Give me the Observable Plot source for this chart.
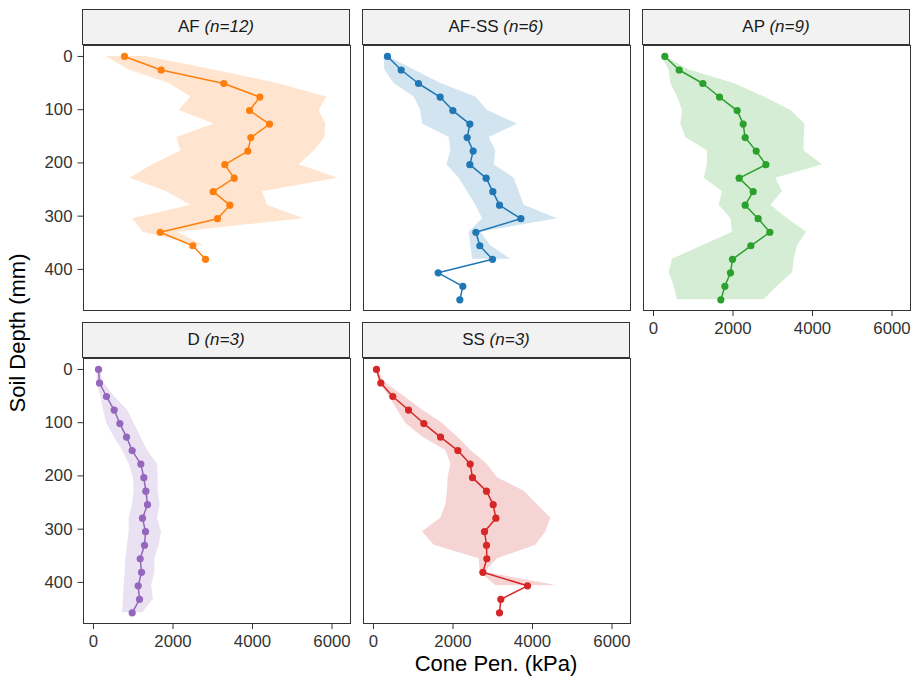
<!DOCTYPE html>
<html><head><meta charset="utf-8">
<script src="https://cdn.jsdelivr.net/npm/d3@7"></script>
<script src="https://cdn.jsdelivr.net/npm/@observablehq/plot@0.6"></script>
<style>
body{margin:0;background:#fff;}
#chart{position:relative;width:913px;height:680px;font-family:"Liberation Sans",Arial,sans-serif;overflow:hidden;background:#fff;}
.strip{position:absolute;box-sizing:border-box;background:#f2f2f2;border:1px solid #333;color:#1a1a1a;font-size:17px;display:flex;align-items:center;justify-content:center;white-space:pre;}
.panel{position:absolute;}
.title{position:absolute;font-size:22px;color:#000;white-space:nowrap;}
</style></head><body><div id="chart"></div>
<script>
// Depths (mm) of each reading
const depthMM = [0, 25.4, 50.8, 76.2, 101.6, 127, 152.4, 177.8, 203.2, 228.6, 254, 279.4, 304.8, 330.2, 355.6, 381, 406.4, 431.8, 457.2];

const groups = ["AF", "AF-SS", "AP", "D", "SS"];
const groupN = [12, 6, 9, 3, 3];
const groupColors = ["#ff7f0e", "#1f77b4", "#2ca02c", "#9467bd", "#d62728"];

// mean cone penetration (kPa) and ribbon bounds
const meanAF = [780, 1702, 3279, 4185, 3925, 4428, 3958, 3883, 3304, 3539, 3011, 3430, 3120, 1677, 2499, 2818];
const loAF   = [310, 897, 1904, 2449, 2155, 3036, 2097, 2197, 1484, 922, 1845, 2449, 981, 1250, 2700, null];
const hiAF   = [1317, 3036, 4629, 5870, 5677, 5845, 5820, 5552, 5174, 6155, 4252, 4377, 5283, 2113, 2780, null];

const meanAFSS = [352, 696, 1132, 1677, 1996, 2424, 2356, 2507, 2424, 2834, 3002, 3170, 3707, 2575, 2675, 2994, 1627, 2247, 2172];
const loAFSS   = [268, 285, 520, 1023, 1191, 1233, 1904, 1946, 1845, 2155, 2365, 2574, 2742, 2407, 2449, 2491, null, null, null];
const hiAFSS   = [369, 1023, 1694, 2574, 2868, 3623, 2910, 3078, 3036, 3539, 3665, 3790, 4629, 2700, 2952, 3455, null, null, null];

const meanAP = [285, 646, 1241, 1660, 2105, 2256, 2306, 2583, 2826, 2155, 2507, 2306, 2633, 2927, 2449, 1987, 1937, 1795, 1694];
const loAP   = [201, 394, 436, 604, 730, 688, 813, 1359, 1359, 1275, 1736, 1652, 1946, 1987, 1233, 478, 394, 520, 604];
const hiAP   = [310, 897, 2029, 2784, 3455, 3807, 3790, 3790, 4252, 3078, 3245, 2952, 3371, 3849, 3623, 3539, 3497, 3120, 2784];

const meanD = [126, 151, 327, 520, 662, 830, 973, 1191, 1266, 1317, 1359, 1233, 1308, 1283, 1174, 1208, 1124, 1157, 973];
const loD   = [101, 84, 184, 252, 335, 520, 730, 897, 1006, 1023, 981, 897, 897, 855, 813, 797, 771, 755, 730];
const hiD   = [151, 268, 520, 855, 1023, 1191, 1359, 1610, 1627, 1627, 1677, 1610, 1711, 1652, 1543, 1543, 1459, 1509, 1233];

const meanSS = [75, 184, 486, 881, 1266, 1686, 2122, 2432, 2491, 2843, 3011, 3078, 2793, 2843, 2851, 2751, 3874, 3203, 3170];
const loSS   = [59, 143, 394, 604, 813, 1233, 1820, 1946, 1878, 1862, 1820, 1694, 1233, 1526, 2658, 2684, 3078, null, null];
const hiSS   = [84, 310, 772, 1233, 1736, 2113, 2449, 2851, 3120, 3790, 4126, 4461, 4336, 4084, 3120, 2801, 4629, null, null];

const xTicks = [0, 2000, 4000, 6000];
const yTicks = [0, 100, 200, 300, 400];

const series = [
  [meanAF, loAF, hiAF],
  [meanAFSS, loAFSS, hiAFSS],
  [meanAP, loAP, hiAP],
  [meanD, loD, hiD],
  [meanSS, loSS, hiSS]
];

// layout
const W = 267, H = 265, ML = 60, MR = 10, MT = 5, MB = 40;
const lefts = [82.5, 362.5, 642.5];
const tops = [44.5, 357.5];
const layout = [
  {col: 0, row: 0, showX: false, showY: true},
  {col: 1, row: 0, showX: false, showY: false},
  {col: 2, row: 0, showX: true, showY: false},
  {col: 0, row: 1, showX: true, showY: true},
  {col: 1, row: 1, showX: true, showY: false}
];

const chart = document.getElementById("chart");

groups.forEach((g, i) => {
  const [m, lo, hi] = series[i];
  const rows = m.map((v, j) => ({depth: depthMM[j], mean: v, lo: lo[j], hi: hi[j]}));
  const color = groupColors[i];
  const L = layout[i];
  const p = Plot.plot({
    width: ML + W + MR,
    height: MT + H + MB,
    marginLeft: ML, marginRight: MR, marginTop: MT, marginBottom: MB,
    style: {fontFamily: '"Liberation Sans", Arial, sans-serif', fontSize: "16.8px", color: "#333", background: "transparent", overflow: "visible"},
    x: {domain: [-251.6, 6465], axis: L.showX ? "bottom" : null, ticks: xTicks, tickFormat: d => String(d), tickSize: 6, tickPadding: 6, label: null},
    y: {domain: [-20.6, 477.2], reverse: true, axis: L.showY ? "left" : null, ticks: yTicks, tickFormat: d => String(d), tickSize: 5.5, tickPadding: 5.5, label: null},
    marks: [
      Plot.areaX(rows, {y: "depth", x1: "lo", x2: "hi", fill: color, fillOpacity: 0.2}),
      Plot.line(rows, {x: "mean", y: "depth", stroke: color, strokeWidth: 1.5}),
      Plot.dot(rows, {x: "mean", y: "depth", fill: color, r: 3.6}),
      Plot.frame({stroke: "#333", strokeWidth: 1})
    ]
  });
  p.classList.add("panel");
  p.style.left = (lefts[L.col] - ML) + "px";
  p.style.top = (tops[L.row] - MT) + "px";
  chart.appendChild(p);

  const s = document.createElement("div");
  s.className = "strip";
  s.style.left = (lefts[L.col] - 0.5) + "px";
  s.style.top = (tops[L.row] - 35.5) + "px";
  s.style.width = (W + 1) + "px";
  s.style.height = "36px";
  s.innerHTML = g + " <i>(n=" + groupN[i] + ")</i>";
  chart.appendChild(s);
});

const xt = document.createElement("div");
xt.className = "title";
xt.textContent = "Cone Pen. (kPa)";
xt.style.left = "496px";
xt.style.top = "651px";
xt.style.transform = "translateX(-50%)";
chart.appendChild(xt);

const yt = document.createElement("div");
yt.className = "title";
yt.textContent = "Soil Depth (mm)";
yt.style.left = "18px";
yt.style.top = "333px";
yt.style.transform = "translate(-50%,-50%) rotate(-90deg)";
chart.appendChild(yt);
</script>
</body></html>
